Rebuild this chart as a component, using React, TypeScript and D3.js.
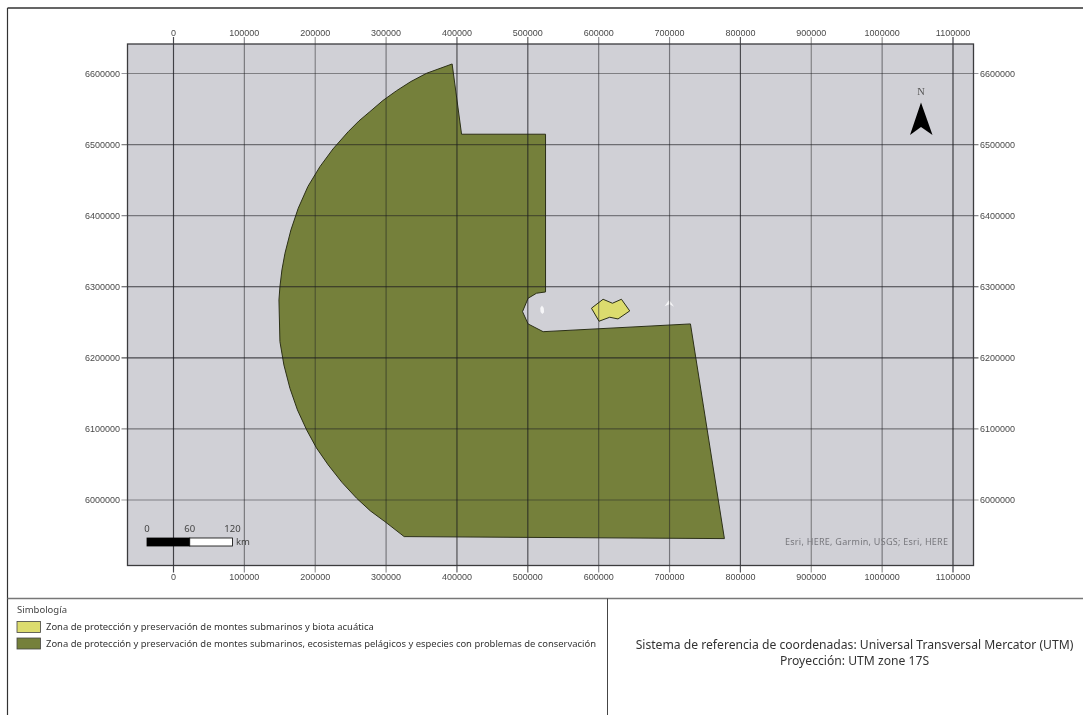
import React from "react";
import * as d3 from "d3";

const xTicks = [0, 100000, 200000, 300000, 400000, 500000, 600000, 700000, 800000, 900000, 1000000, 1100000];
const yTicks = [6000000, 6100000, 6200000, 6300000, 6400000, 6500000, 6600000];
const xTickShade = [0.8, 0.5, 0.45, 0.5, 0.75, 0.75, 0.5, 0.5, 0.75, 0.45, 0.5, 0.85];
const yTickShade = [0.45, 0.5, 0.75, 0.8, 0.5, 0.55, 0.45];

const outerZone: [number, number][] = [
  [393200, 6613400], [406500, 6514600], [525000, 6514600], [525000, 6292700], [512300, 6290900],
  [500400, 6283800], [492500, 6265000], [500400, 6247700], [521600, 6236800], [729500, 6247700],
  [777400, 5945700], [325500, 5948500], [298300, 5969600], [277800, 5984700], [258400, 6002500],
  [237700, 6024800], [218300, 6049400], [201700, 6073300], [187900, 6098600], [174900, 6126700],
  [164300, 6157200], [155800, 6190000], [150200, 6222800], [148800, 6281400], [150200, 6300100],
  [153000, 6323600], [157300, 6347100], [165700, 6379900], [176000, 6410400], [189700, 6441100],
  [206600, 6468900], [225000, 6493800], [246500, 6518100], [261600, 6533200], [277100, 6546300],
  [295500, 6562000], [314800, 6575800], [335000, 6588700], [357100, 6600300],
];
const innerZone: [number, number][] = [
  [589800, 6269800], [606200, 6282400], [619400, 6276800], [632100, 6282400],
  [643800, 6266000], [627300, 6254700], [615600, 6257100], [600500, 6251500],
];
const speckA: [number, number][] = [
  [517500, 6270000], [520000, 6273500], [522500, 6270000], [523000, 6264000], [520500, 6261500], [518000, 6264500],
];
const speckB: [number, number][] = [
  [693000, 6272500], [699500, 6281500], [706500, 6272000], [700000, 6275500],
];
const scaleKm = [0, 60, 120];
const legendTitle = "Simbología";
const legendLabels = [
  "Zona de protección y preservación de montes submarinos y biota acuática",
  "Zona de protección y preservación de montes submarinos, ecosistemas pelágicos y especies con problemas de conservación",
];
const legendColors = ["#dcdc6e", "#75803a"];
const crsLines = [
  "Sistema de referencia de coordenadas: Universal Transversal Mercator (UTM)",
  "Proyección: UTM zone 17S",
];
const attribution = "Esri, HERE, Garmin, USGS; Esri, HERE";

const W = 1083;
const H = 715;
const frame = { l: 127.5, t: 44, r: 973.5, b: 565.5 };

export default function App() {
  const x = d3.scaleLinear().domain([0, 1100000]).range([173.5, 953]);
  const y = d3.scaleLinear().domain([6000000, 6600000]).range([500, 73.5]);
  const km = d3.scaleLinear().domain([0, 120]).range([147, 232.5]);
  const line = d3.line<[number, number]>().x((d) => x(d[0])).y((d) => y(d[1])).curve(d3.curveLinearClosed);
  const sans = "'Liberation Sans', Arial, sans-serif";
  const tahoma = "'Noto Sans', 'Open Sans', sans-serif";
  const tick = { fontFamily: sans, fontSize: 9, fill: "#4a4a4a" };

  return (
    <svg width={W} height={H} viewBox={`0 0 ${W} ${H}`} style={{ position: "absolute", left: 0, top: 0, display: "block", background: "#fff" }}>
      <defs>
        <filter id="soft" x="-2%" y="-2%" width="104%" height="104%">
          <feGaussianBlur stdDeviation="0.45" />
        </filter>
      </defs>
      <g filter="url(#soft)">
        <rect x={frame.l} y={frame.t} width={frame.r - frame.l} height={frame.b - frame.t} fill="#d0d0d6" />
        <path d={line(outerZone) || ""} fill="#75803a" stroke="#2c3018" strokeWidth={1} />
        <path d={line(innerZone) || ""} fill="#dcdc6e" stroke="#2c3018" strokeWidth={1} />
        <path d={line(speckA) || ""} fill="#f6f6f8" />
        <path d={line(speckB) || ""} fill="#f6f6f8" />

        {yTicks.map((t, i) => (
          <g key={t}>
            <line x1={frame.l - 6} x2={frame.r + 5} y1={y(t)} y2={y(t)} stroke="#1c1c20" strokeOpacity={yTickShade[i]} strokeWidth={1.15} />
            <text x={120} y={y(t)} dy="0.35em" textAnchor="end" {...tick}>{t}</text>
            <text x={980} y={y(t)} dy="0.35em" {...tick}>{t}</text>
          </g>
        ))}
        {xTicks.map((t, i) => (
          <g key={t}>
            <line x1={x(t)} x2={x(t)} y1={frame.t - 7} y2={frame.b + 7} stroke="#1c1c20" strokeOpacity={xTickShade[i]} strokeWidth={1.15} />
            <text x={x(t)} y={33} dy="0.35em" textAnchor="middle" {...tick}>{t}</text>
            <text x={x(t)} y={576.5} dy="0.35em" textAnchor="middle" {...tick}>{t}</text>
          </g>
        ))}
        <rect x={frame.l} y={frame.t} width={frame.r - frame.l} height={frame.b - frame.t} fill="none" stroke="#3a3a3e" strokeWidth={1.3} />

        {/* north arrow */}
        <text x={921} y={95} textAnchor="middle" fontFamily="'Liberation Serif', serif" fontSize={10.5} fill="#555">N</text>
        <path d="M921,102.5 L932.5,135 L921,127 L910,135 Z" fill="#000" />

        {/* scale bar */}
        <rect x={km(0)} y={538} width={km(60) - km(0)} height={8} fill="#000" stroke="#000" strokeWidth={0.8} />
        <rect x={km(60)} y={538} width={km(120) - km(60)} height={8} fill="#fff" stroke="#000" strokeWidth={0.8} />
        {scaleKm.map((k) => (
          <text key={k} x={km(k)} y={528.5} dy="0.35em" textAnchor="middle" fontFamily={tahoma} fontSize={9.5} fill="#444">{k}</text>
        ))}
        <text x={236} y={542} dy="0.35em" fontFamily={tahoma} fontSize={9.5} fill="#444">km</text>

        <text x={948} y={542} dy="0.35em" textAnchor="end" fontFamily={tahoma} fontSize={9} fill="#77777c" textLength={163} lengthAdjust="spacing">{attribution}</text>

        {/* layout */}
        <line x1={7.5} x2={W} y1={8} y2={8} stroke="#333" strokeWidth={1.3} />
        <line x1={7.5} x2={7.5} y1={8} y2={H} stroke="#333" strokeWidth={1.2} />
        <line x1={7.5} x2={W} y1={598.5} y2={598.5} stroke="#777" strokeWidth={1.4} />
        <line x1={607.5} x2={607.5} y1={598.5} y2={H} stroke="#444" strokeWidth={1} />

        {/* legend */}
        <text x={17} y={610} dy="0.35em" fontFamily={tahoma} fontSize={9.5} fill="#444">{legendTitle}</text>
        {legendLabels.map((s, i) => (
          <g key={s}>
            <rect x={17} y={621.5 + i * 16.5} width={23.5} height={11} fill={legendColors[i]} stroke="#444" strokeWidth={0.8} />
            <text x={46} y={627 + i * 17} dy="0.35em" fontFamily={tahoma} fontSize={9.43} fill="#333">{s}</text>
          </g>
        ))}
        {crsLines.map((s, i) => (
          <text key={s} x={854.5} y={645 + i * 15.5} dy="0.35em" textAnchor="middle" fontFamily={tahoma} fontSize={12.15} fill="#333">{s}</text>
        ))}
      </g>
    </svg>
  );
}
